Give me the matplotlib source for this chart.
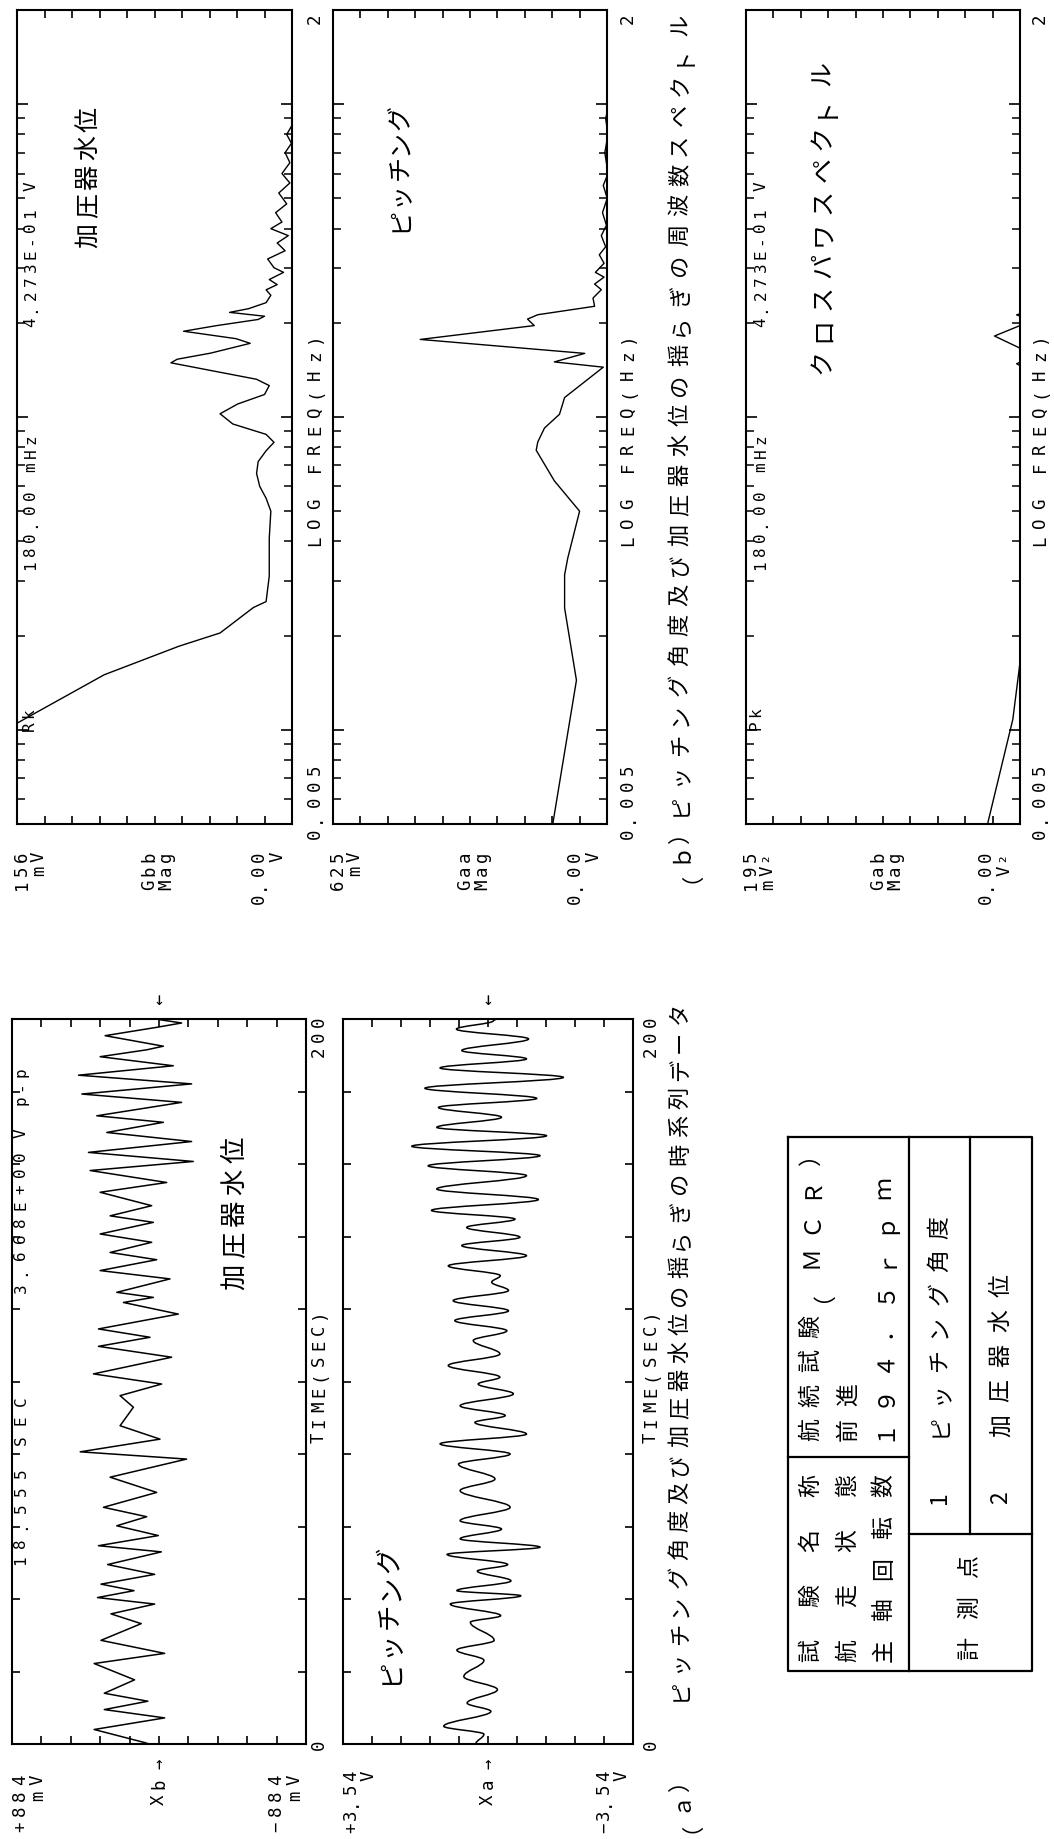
import numpy as np
import matplotlib
matplotlib.use("Agg")
import matplotlib.pyplot as plt
from matplotlib.path import Path
from matplotlib.patches import PathPatch
from matplotlib.ticker import FixedLocator, NullFormatter

# ---------------- data ----------------
# (a) time series : pressurizer water level Xb [mV]
a1_t = [0.0, 0.4, 4.0, 7.2, 9.5, 11.8, 14.0, 17.7, 22.2, 25.0, 28.6, 33.2, 35.9, 38.6, 40.4,
        42.3, 44.1, 46.8, 49.5, 53.0, 54.7, 57.5, 60.2, 62.7, 65.3, 69.4, 73.6, 78.6, 80.6,
        84.1, 87.8, 92.9, 96.1, 99.3, 102.1, 106.7, 109.7, 112.2, 114.5, 118.6, 121.8, 123.2,
        124.6, 128.3, 130.6, 133.6, 135.6, 138.4, 140.7, 143.9, 145.7, 148.5, 152.2, 154.9,
        158.2, 160.7, 163.2, 166.2, 168.7, 171.5, 173.3, 177.0, 179.3, 182.1, 184.5, 187.1,
        189.6, 191.5, 192.5, 195.4, 197.7, 198.9, 199.8, 200.0]
a1_v = [60, 87, 390, -34, 329, 67, 329, 147, 390, -34, 349, 107, 289, 26, 370,
        150, 349, 26, 309, -14, 364, 4, 254, 74, 334, 14, 294, -166, 474,
        -6, 234, 154, 234, -16, 394, -76, 364, 54, 364, -116, 214, 34,
        254, -66, 354, 14, 294, 44, 354, 34, 294, 44, 354, -46,
        414, -206, 424, -196, 314, -26, 374, -136, 464, -196, 484, -86,
        354, 74, -26, 324, 14, -136, -6, -6]

# (a) time series : pitching angle Xa [V]
a2_t = [0.0, 2.7, 4.9, 9.0, 11.3, 15.0, 18.6, 23.1, 25.9, 28.6, 33.6, 35.4, 38.6, 40.9, 42.3,
        45.0, 47.7, 49.5, 52.3, 54.3, 56.6, 59.3, 61.6, 65.3, 69.9, 73.1, 77.2, 80.0, 82.8,
        85.5, 88.7, 90.6, 93.3, 96.6, 99.3, 101.2, 104.4, 107.6, 111.3, 114.0, 116.8, 119.5,
        122.3, 125.1, 127.4, 129.2, 131.9, 134.7, 137.5, 139.8, 142.5, 144.8, 147.2, 150.2,
        153.1, 156.8, 159.5, 162.3, 164.9, 167.8, 170.1, 172.9, 175.6, 178.1, 180.9, 183.9,
        186.5, 189.0, 191.3, 194.5, 197.2, 199.5, 200.0]
a2_v = [0.30, 0.10, 1.08, -0.07, 0.51, -0.23, 0.59, 0.10, 0.76, -0.15, 0.43, -0.31, 0.92, -0.80, 0.76,
        -0.56, 0.26, -0.48, 1.00, -1.27, 0.68, -0.33, 0.68, -0.54, 0.68, -0.17, 0.72, -0.54, 1.17,
        -0.94, 0.32, -0.42, 0.68, -0.62, 0.24, -0.29, 0.97, -0.29, 0.36, -0.46, 0.81, -0.50,
        0.85, -0.50, -0.09, -0.30, 0.97, -0.94, 0.64, -0.78, 0.52, -0.66, 1.38, -1.23,
        1.25, -0.94, 1.46, -1.27, 1.86, -1.43, 1.25, -0.33, 1.21, -1.19, 1.54, -1.84,
        1.17, -0.94, 0.64, -0.99, 0.77, -0.13, -0.20]

# (b) spectra
gbb_f = [0.0105, 0.0150, 0.0185, 0.0204, 0.0246, 0.0257, 0.031, 0.041, 0.050, 0.055, 0.060,
         0.066, 0.072, 0.078, 0.083, 0.088, 0.095, 0.1024, 0.110, 0.118, 0.126, 0.132, 0.149,
         0.153, 0.160, 0.172, 0.178, 0.188, 0.196, 0.205, 0.210, 0.216, 0.222, 0.232, 0.245,
         0.255, 0.265, 0.275, 0.29, 0.30, 0.32, 0.34, 0.36, 0.38, 0.40, 0.42, 0.45, 0.48,
         0.52, 0.56, 0.60, 0.65, 0.70, 0.75, 0.80, 0.85, 0.90, 1.0, 2.0]
gbb_v = [156, 101, 54, 28, 7, -1, -3, -3, -4, -1, 3,
         5, 4, -1, -6, -1, 20, 28, 17, 0, -3, 5, 59,
         55, 34, 9, 18, 51, 30, 4, 0, 22, 10, -1, -4,
         -1, -8, -3, -12, -6, -2, -13, -8, -15, -4, -11, -7, -14,
         -9, -16, -11, -16, -13, -17, -14, -17, -18, -20, -22]

gaa_f = [0.005, 0.0144, 0.0245, 0.0313, 0.0354, 0.050, 0.0625, 0.0783, 0.0832, 0.0922, 0.102,
         0.1154, 0.1443, 0.150, 0.1597, 0.177, 0.196, 0.2056, 0.2123, 0.2259, 0.240, 0.2553,
         0.266, 0.28, 0.29, 0.31, 0.33, 0.35, 0.38, 0.41, 0.45, 0.50, 0.55, 0.60, 0.70, 0.80,
         0.90, 1.0, 2.0]
gaa_v = [68, 8, 38, 38, 30, 0, 64, 110, 106, 89, 51,
         38, -60, 64, -13, 404, 115, 132, 106, -38, -34, -55,
         -38, -62, -40, -62, -50, -66, -55, -68, -58, -70, -60, -72, -64, -72,
         -66, -75, -80]

gab_f = [0.005, 0.0108, 0.0195, 0.05, 0.140, 0.148, 0.155, 0.165, 0.1815, 0.197, 0.205,
         0.212, 0.22, 2.0]
gab_v = [4, -16, -24, -40, -30, -19, -30, -23, -1.5, -23, -30,
         -19, -30, -30]

t_ticks = [0, 20, 40, 60, 80, 100, 120, 140, 160, 180, 200]

# ---------------- figure ----------------
W, H = 1054, 1840
fig = plt.figure(figsize=(W / 100, H / 100), dpi=100)
fig.patch.set_facecolor("white")
MONO = "DejaVu Sans Mono"
JP = ["Noto Sans CJK JP", "DejaVu Sans"]
LW_SP = 1.5
LAB = 12.5   # tick / axis label size
HDR = 11.5   # header text size


def box(x0, y0, x1, y1):
    return fig.add_axes([x0 / W, 1 - y1 / H, (x1 - x0) / W, (y1 - y0) / H])


def style_time(ax, vmax):
    ax.set_xlim(vmax, -vmax)
    ax.set_ylim(0, 200)
    ax.set_xticks(np.linspace(-vmax, vmax, 11))
    ax.set_yticks(t_ticks)
    ax.tick_params(axis="x", direction="in", top=True, bottom=True, length=6, width=1.2,
                   labelbottom=False, labeltop=False)
    ax.tick_params(axis="y", direction="in", left=True, right=True, length=5.5, width=1.2,
                   labelleft=False, labelright=False)
    for s in ax.spines.values():
        s.set_linewidth(LW_SP)


def style_spec(ax, vmax):
    ax.set_yscale("log")
    ax.set_ylim(0.005, 2)
    ax.set_xlim(vmax, -vmax / 9)
    ax.set_xticks([vmax * (1 - k / 9) for k in range(11)])
    ax.yaxis.set_major_locator(FixedLocator([0.01, 0.1, 1.0]))
    minors = [m * 10.0 ** e for e in (-3, -2, -1) for m in range(2, 10) if 0.0055 < m * 10.0 ** e < 1.9]
    ax.yaxis.set_minor_locator(FixedLocator(minors))
    ax.yaxis.set_major_formatter(NullFormatter())
    ax.yaxis.set_minor_formatter(NullFormatter())
    ax.tick_params(axis="x", direction="in", top=True, bottom=True, length=6, width=1.2,
                   labelbottom=False, labeltop=False)
    ax.tick_params(axis="y", which="major", direction="in", left=True, right=True, length=8,
                   width=1.2, labelleft=False)
    ax.tick_params(axis="y", which="minor", direction="in", left=True, right=True, length=5.5,
                   width=1.1, labelleft=False)
    for s in ax.spines.values():
        s.set_linewidth(LW_SP)


def smooth_path(ax, t, v, lw=1.1):
    verts = [(v[0], t[0])]
    codes = [Path.MOVETO]
    k = 0.36
    for i in range(1, len(t)):
        dt = t[i] - t[i - 1]
        verts += [(v[i - 1], t[i - 1] + k * dt), (v[i], t[i] - k * dt), (v[i], t[i])]
        codes += [Path.CURVE4] * 3
    ax.add_patch(PathPatch(Path(verts, codes), fill=False, lw=lw, ec="black"))


# time series panels
ax1 = box(12, 1020, 306, 1745)
style_time(ax1, 884)
ax1.plot(a1_v, a1_t, color="black", lw=1.1)

ax2 = box(343, 1020, 633, 1745)
style_time(ax2, 3.54)
smooth_path(ax2, a2_t, a2_v)

# spectrum panels
s1 = box(17, 11, 292, 825)
style_spec(s1, 156)
s1.plot(gbb_v, gbb_f, color="black", lw=1.0)

s2 = box(333, 11, 607, 825)
style_spec(s2, 625)
s2.plot(gaa_v, gaa_f, color="black", lw=1.0)

s3 = box(746, 11, 1020, 825)
style_spec(s3, 195)
s3.plot(gab_v, gab_f, color="black", lw=1.0)

# overlay for text / table
ov = fig.add_axes([0, 0, 1, 1])
ov.set_xlim(0, W)
ov.set_ylim(H, 0)
ov.axis("off")


def vtext(x, y, s, pitch, size=LAB, anchor="start", family=MONO):
    n = len(s)
    if anchor == "start":
        y0 = y
    elif anchor == "end":
        y0 = y + (n - 1) * pitch
    else:
        y0 = y + (n - 1) * pitch / 2
    for i, ch in enumerate(s):
        if ch == " ":
            continue
        ov.text(x, y0 - i * pitch, ch, rotation=90, ha="center", va="center",
                rotation_mode="anchor", fontsize=size, family=family, color="black")


# --- time-series labels
vtext(20, 1780, "+884", 15.5, anchor="end")
vtext(38, 1780, "mV", 15.5, anchor="end")
vtext(159, 1784, "Xb", 16, anchor="end")
vtext(159, 1764, "→", 16)
vtext(276, 1780, "−884", 15.5, anchor="end")
vtext(295, 1780, "mV", 15.5, anchor="end")

vtext(351, 1776, "+3.54", 13, anchor="end")
vtext(369, 1776, "V", 13, anchor="end")
vtext(488, 1784, "Xa", 16, anchor="end")
vtext(488, 1764, "→", 16)
vtext(604, 1776, "−3.54", 13, anchor="end")
vtext(622, 1776, "V", 13, anchor="end")

for xr in (319, 651):
    vtext(xr, 1745, "0", 15)
    vtext(xr, 1052, "200", 15)
    vtext(xr, 1376, "TIME(SEC)", 15.5, anchor="center")

ov.text(159, 1000, "↓", ha="center", va="center", fontsize=13, family=MONO)
ov.text(488, 1000, "↓", ha="center", va="center", fontsize=13, family=MONO)

vtext(21, 1288, "3.668E+00", 16.5, size=HDR)
vtext(21, 1133, "V", 16.5, size=HDR)
vtext(21, 1100, "p-p", 14, size=HDR)
vtext(21, 1560, "18.555", 17.3, size=HDR)
vtext(21, 1440, "SEC", 19.5, size=HDR)

vtext(235, 1277, "加圧器水位", 31.7, size=19, family=JP)
vtext(390, 1672, "ピッチング", 28, size=19, family=JP)

# --- spectrum labels
vtext(22, 857, "156", 14, anchor="end")
vtext(39, 857, "mV", 14, anchor="end")
vtext(149, 857, "Gbb", 14, anchor="end")
vtext(166, 857, "Mag", 14, anchor="end")
vtext(259, 857, "0.00", 14, anchor="end")
vtext(278, 857, "V", 14, anchor="end")

vtext(338, 857, "625", 14, anchor="end")
vtext(355, 857, "mV", 14, anchor="end")
vtext(465, 857, "Gaa", 14, anchor="end")
vtext(482, 857, "Mag", 14, anchor="end")
vtext(575, 857, "0.00", 14, anchor="end")
vtext(594, 857, "V", 14, anchor="end")

vtext(751, 857, "195", 14, anchor="end")
vtext(768, 857, "mV²", 14, anchor="end")
vtext(878, 857, "Gab", 14, anchor="end")
vtext(895, 857, "Mag", 14, anchor="end")
vtext(986, 857, "0.00", 14, anchor="end")
vtext(1005, 857, "V²", 14, anchor="end")

for xr in (315, 628, 1040):
    vtext(xr, 19, "2", 15)
    vtext(xr, 834, "0.005", 16)
    vtext(xr, 541, "LOG FREQ(Hz)", 18.5)

for xh in (31, 761):
    vtext(xh, 322, "4.273E-01", 13.6, size=HDR)
    vtext(xh, 186, "V", 13.6, size=HDR)
    vtext(xh, 565, "180.00", 14, size=HDR)
    vtext(xh, 467, "mHz", 14, size=HDR)

vtext(29, 726, "Rk", 13, size=HDR)
vtext(756, 725, "Pk", 13, size=HDR)

vtext(88, 235, "加圧器水位", 29, size=18, family=JP)
vtext(400, 219, "ピッチング", 25.5, size=18, family=JP)
vtext(823, 361, "クロスパワスペクトル", 32, size=18, family=JP)

# --- captions
vtext(680, 1822, "（ａ）", 21, size=16, family=JP)
vtext(680, 1690, "ピッチング角度及び加圧器水位の揺らぎの時系列データ", 28.2, size=16, family=JP)
vtext(680, 872, "（ｂ）", 20, size=16, family=JP)
vtext(680, 805, "ピッチング角度及び加圧器水位の揺らぎの周波数スペクトル", 30, size=16, family=JP)

# --- table
TL = 1.6
ov.plot([788, 1032, 1032, 788, 788], [1138, 1138, 1672, 1672, 1138], color="black", lw=TL)
ov.plot([909, 909], [1138, 1672], color="black", lw=TL)
ov.plot([788, 909], [1458, 1458], color="black", lw=TL)
ov.plot([970, 970], [1138, 1535], color="black", lw=TL)
ov.plot([909, 1032], [1535, 1535], color="black", lw=TL)

TS = 16.5
vtext(811, 1651, "試験名称", 55, size=TS, family=JP)
vtext(848, 1651, "航走状態", 55, size=TS, family=JP)
vtext(884, 1651, "主軸回転数", 41.25, size=TS, family=JP)
vtext(811, 1430, "航続試験（ＭＣＲ）", 34.6, size=TS, family=JP)
vtext(848, 1430, "前進", 35, size=TS, family=JP)
vtext(884, 1430, "１９４．５ｒｐｍ", 34.6, size=TS, family=JP)
vtext(940, 1426, "ピッチング角度", 33, size=TS, family=JP)
vtext(1001, 1426, "加圧器水位", 35, size=TS, family=JP)
vtext(940, 1498, "1", 30, size=TS, family=JP)
vtext(1001, 1498, "2", 30, size=TS, family=JP)
vtext(970, 1649, "計測点", 41, size=TS, family=JP)

fig.savefig("out.png", dpi=100, facecolor="white")
